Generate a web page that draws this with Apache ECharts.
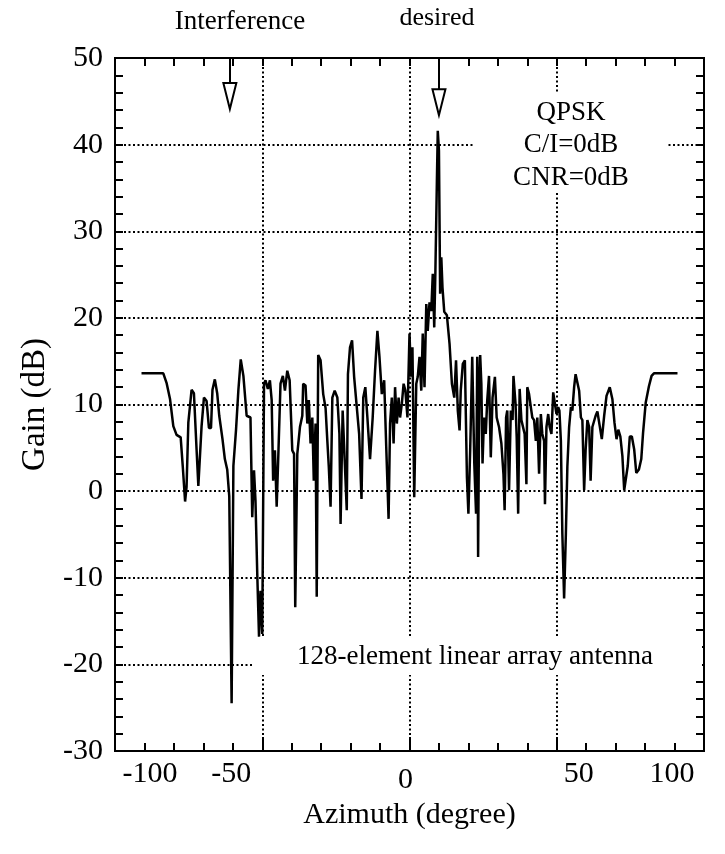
<!DOCTYPE html>
<html><head><meta charset="utf-8">
<script src="https://cdn.jsdelivr.net/npm/echarts@6/dist/echarts.min.js"></script>
<style>html,body{margin:0;padding:0;background:#fff}#c{width:725px;height:854px}</style>
</head><body><div id="c"></div>
<script>
// ---- data ----
const azimuth = [
 -91,-83.6,-82.5,-81.3,-80.2,-79.1,-77.7,-77.0,-76.2,-75.7,-75.1,-74.0,-73.2,-72.3,-71.7,-71.1,-70.6,-69.8,-68.9,-68.1,
 -67.4,-66.9,-66.1,-65.3,-64.6,-63.5,-62.7,-61.9,-61.2,-60.4,-59.8,-58.9,-58.1,-57.3,-56.4,-55.3,
 -54.0,-53.4,-52.8,-52.3,-51.7,-51.1,-50.6,-50.0,-49.4,-48.9,-48.1,-47.4,-46.8,-46.3,-45.7,-45.1,-44.6,-43.8,-43.0,-42.3,
 -41.5,-40.7,-39.8,-39.2,-38.8,-38.1,-37.2,-36.4,-36.1,-35.3,-34.7,-34.2,-33.6,-33.0,-32.5,-31.9,-31.5,-31.0,-30.2,-29.3,
 -28.5,-27.9,-27.4,-26.8,-26.2,-25.4,-24.5,-23.8,-23.4,-22.7,-22.0,-21.3,-20.9,-20.2,-19.5,-18.8,-17.9,-17.1,-16.3,-15.7,
 -15.0,-14.3,-13.4,-12.5,-11.7,-10.9,-10.2,-9.4,-8.6,-7.9,-7.1,-6.6,-6.0,-5.4,-4.9,-4.3,-3.7,-3.2,-2.6,-2.0,-1.4,-0.7,
 0.0,0.5,1.0,1.6,2.3,2.8,3.4,4.0,4.5,5.1,5.7,6.2,6.8,7.4,7.9,8.4,8.8,9.3,9.6,10.0,10.4,10.8,11.2,11.8,12.7,13.6,14.4,15.2,
 15.8,16.4,17.0,17.4,18.1,18.8,19.5,20.0,20.6,21.3,22.0,22.6,23.0,23.3,23.7,24.0,24.4,24.8,25.3,25.9,26.4,27.0,27.6,28.2,
 29.0,29.6,30.4,31.2,31.9,32.3,32.8,33.2,33.8,34.4,35.0,35.3,36.0,36.4,36.9,37.4,38.0,38.6,39.1,39.7,40.0,40.6,41.2,41.7,
 42.3,42.9,43.4,44.0,44.6,45.1,45.7,46.0,46.5,47.1,47.6,48.2,48.8,49.3,49.9,50.5,50.9,51.4,51.9,52.5,53.1,53.6,54.2,54.8,
 55.3,55.9,56.4,57.0,57.6,58.2,58.7,59.3,59.8,60.4,61.0,61.5,62.1,63.2,63.8,64.6,65.3,66.1,66.9,68.0,68.9,69.6,70.3,70.9,
 71.6,72.3,72.9,73.4,74.1,74.8,75.5,76.3,77.0,77.9,78.7,79.3,80.2,81.3,82.2,83.0,91.0
];
const gain = [
 13.6,13.6,12.5,10.6,7.5,6.5,6.2,2.9,-1.2,0.5,7.9,11.7,11.3,4.8,0.6,0.4,7.5,10.8,10.4,7.3,
 7.3,11.7,12.9,11.3,8.7,6.0,3.7,2.5,-0.6,-24.5,2.9,7.1,11.7,15.2,13.3,8.7,
 8.5,-3.0,2.4,-1.1,-9.5,-16.8,-11.5,-16.5,12.4,12.8,11.8,12.8,10.5,1.2,4.7,-1.8,3.5,12.4,13.3,11.6,
 13.9,12.8,4.7,4.3,-13.4,4.3,7.4,8.7,12.4,12.2,7.8,10.5,5.5,8.5,1.2,7.8,-12.2,15.7,15.1,11.2,
 9.6,5.8,2.8,-1.8,10.8,11.6,10.8,6.6,-3.8,9.3,3.5,-2.2,13.5,16.6,17.4,13.2,9.7,6.6,-0.9,10.8,
 12.0,8.5,3.7,8.5,13.9,18.5,15.5,11.2,12.8,5.1,-3.2,7.8,10.8,5.5,12.0,7.8,10.8,8.5,10.1,12.4,11.6,8.5,
 18.2,13.2,16.6,-0.7,12.4,13.2,15.5,11.6,18.2,12.0,21.6,18.5,21.8,20.8,25.1,18.9,25.5,35.8,41.6,39.3,22.8,27.0,23.5,20.7,20.3,17.0,12.4,10.8,
 15.1,9.3,7.0,11.6,14.7,15.1,1.6,-2.6,4.7,15.5,3.2,-2.6,15.5,-7.6,12.4,15.7,12.4,3.2,8.5,6.6,10.5,13.3,3.9,10.8,
 13.2,8.5,7.4,5.5,2.0,-2.2,8.5,9.3,0.1,9.3,8.2,13.3,10.1,6.2,-2.6,11.8,8.2,8.2,6.6,0.8,12.0,11.2,9.7,8.5,
 8.2,5.8,8.5,2.0,8.9,6.6,5.8,-1.5,7.4,8.9,7.4,6.6,11.4,11.2,8.9,9.7,9.3,5.8,-4.9,-12.4,-4.9,2.8,7.4,9.7,
 9.3,12.0,13.5,13.5,11.6,8.5,8.2,0.1,4.7,8.2,7.4,1.2,7.4,8.7,9.2,7.5,6.0,8.7,11.0,12.0,10.6,7.9,6.0,7.1,
 6.3,4.0,0.1,0.1,2.9,6.3,6.3,4.8,2.1,2.5,3.7,6.7,10.2,12.1,13.3,13.6,13.6
];
const xTicks = [-100, -50, 0, 50, 100];
const yTicks = [-30, -20, -10, 0, 10, 20, 30, 40, 50];
const arrowAzimuth = [-61, 10];
const arrowEnd = [45.6, 44.9];
const arrowNames = ['Interference', 'desired'];
const legendLines = ['QPSK', 'C/I=0dB', 'CNR=0dB'];
const noteText = '128-element linear array antenna';
const xName = 'Azimuth (degree)';
const yName = 'Gain (dB)';

const FONT = "'Liberation Serif', 'Times New Roman', serif";
const chart = echarts.init(document.getElementById('c'), null, {renderer: 'canvas'});

const dotted = {color: '#000', width: 2, type: [2, 2.5]};
const tickStyle = {color: '#000', width: 2};
const xPad = [[0,0,0,70],[0,62,0,0],[6,8,0,0],[0,0,0,44],[0,64,0,0]];
const rich = {};
xPad.forEach((p, i) => { rich['t' + i] = {fontFamily: FONT, fontSize: 30, color: '#000', padding: p}; });

function sideAxis(pos, isX) {
  return {type: 'value', position: pos,
     min: isX ? xTicks[0] : yTicks[0], max: isX ? xTicks[xTicks.length-1] : yTicks[yTicks.length-1],
     interval: isX ? 50 : 10,
     axisLine: {show: false, onZero: false},
     axisTick: {show: true, inside: true, length: 8, lineStyle: tickStyle},
     minorTick: {show: true, splitNumber: 5, length: 8, lineStyle: tickStyle},
     splitLine: {show: false}, axisLabel: {show: false}};
}

const option = {
  animation: false,
  backgroundColor: '#fff',
  grid: {left: 115, right: 21, top: 58, bottom: 103, show: true, borderColor: '#000', borderWidth: 2, backgroundColor: 'transparent'},
  xAxis: [
    {type: 'value', position: 'bottom', min: xTicks[0], max: xTicks[xTicks.length-1], interval: 50,
     axisLine: {show: false, onZero: false},
     axisTick: {show: true, inside: true, length: 14, lineStyle: tickStyle},
     minorTick: {show: true, splitNumber: 5, length: 8, lineStyle: tickStyle},
     splitLine: {show: true, lineStyle: dotted},
     axisLabel: {show: true, margin: 8, showMinLabel: true, showMaxLabel: true, verticalAlign: 'top',
       formatter: (v) => { const i = xTicks.indexOf(v); return '{t' + i + '|' + v + '}'; }, rich: rich},
     name: xName, nameLocation: 'middle', nameGap: 42,
     nameTextStyle: {fontFamily: FONT, fontSize: 30, color: '#000'}},
    sideAxis('top', true)
  ],
  yAxis: [
    {type: 'value', position: 'left', min: yTicks[0], max: yTicks[yTicks.length-1], interval: 10,
     axisLine: {show: false, onZero: false},
     axisTick: {show: true, inside: true, length: 8, lineStyle: tickStyle},
     minorTick: {show: true, splitNumber: 5, length: 8, lineStyle: tickStyle},
     splitLine: {show: true, lineStyle: dotted},
     axisLabel: {show: true, margin: 12, showMinLabel: true, showMaxLabel: true,
       fontFamily: FONT, fontSize: 30, color: '#000'},
     name: yName, nameLocation: 'middle', nameGap: 62,
     nameTextStyle: {fontFamily: FONT, fontSize: 33, color: '#000'}},
    sideAxis('right', false)
  ],
  series: [{
    type: 'line', xAxisIndex: 0, yAxisIndex: 0,
    data: azimuth.map((a, i) => [a, gain[i]]),
    showSymbol: false, symbol: 'none',
    lineStyle: {color: '#000', width: 2.5}, itemStyle: {color: '#000'},
    markLine: {
      silent: true, animation: false,
      symbol: ['none', 'emptyTriangle'], symbolSize: [13, 26],
      lineStyle: {color: '#000', width: 2, type: 'solid'},
      label: {show: false},
      data: arrowAzimuth.map((a, i) => [{coord: [a, 50]}, {coord: [a, arrowEnd[i]]}])
    }
  }],
  graphic: {elements: [
    {type: 'text', z: 100, style: {text: arrowNames[0], x: 240, y: 22, align: 'center', verticalAlign: 'middle', font: "27px " + FONT, fill: '#000'}},
    {type: 'text', z: 100, style: {text: arrowNames[1], x: 437, y: 18, align: 'center', verticalAlign: 'middle', font: "26px " + FONT, fill: '#000'}},
    {type: 'rect', z: 100, shape: {x: 475, y: 92, width: 192, height: 101}, style: {fill: '#fff'}},
    {type: 'text', z: 101, style: {text: legendLines[0], x: 571, y: 113, align: 'center', verticalAlign: 'middle', font: "27px " + FONT, fill: '#000'}},
    {type: 'text', z: 101, style: {text: legendLines[1], x: 571, y: 145, align: 'center', verticalAlign: 'middle', font: "27px " + FONT, fill: '#000'}},
    {type: 'text', z: 101, style: {text: legendLines[2], x: 571, y: 178, align: 'center', verticalAlign: 'middle', font: "27px " + FONT, fill: '#000'}},
    {type: 'rect', z: 100, shape: {x: 252, y: 638, width: 450, height: 37}, style: {fill: '#fff'}},
    {type: 'text', z: 101, style: {text: noteText, x: 475, y: 657, align: 'center', verticalAlign: 'middle', font: "27px " + FONT, fill: '#000'}}
  ]}
};
chart.setOption(option);
</script>
</body></html>
